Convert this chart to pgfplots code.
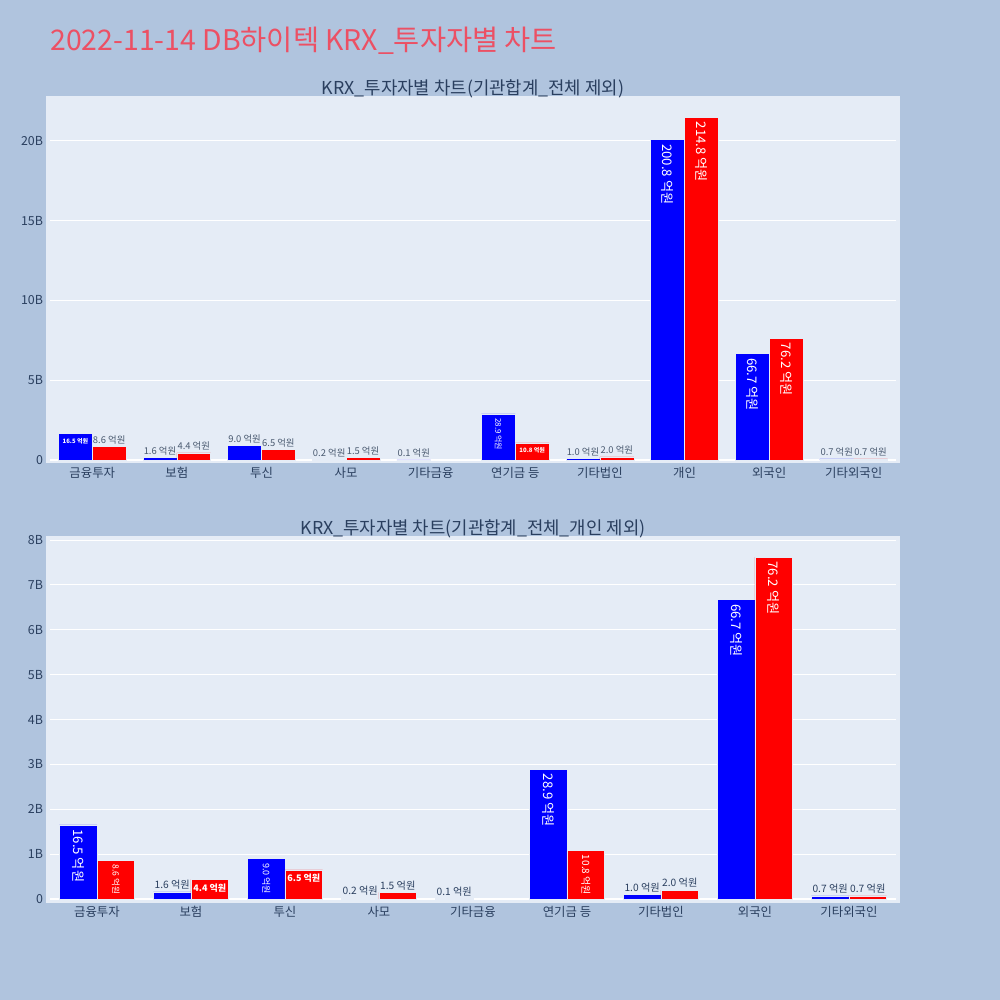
\documentclass[border=0pt]{standalone}
\usepackage{fontspec}
\usepackage{pgfplots}
\usepackage{pgfplotstable}
\pgfplotsset{compat=1.18}
\setmainfont{Noto Sans CJK KR}
\definecolor{pagebg}{HTML}{B0C4DE}
\definecolor{plotbg}{HTML}{E5ECF6}
\definecolor{titlec}{HTML}{EC5064}
\definecolor{fontc}{HTML}{2A3F5F}
\definecolor{outc}{HTML}{4A5A70}
\definecolor{barblue}{HTML}{0000FF}
\definecolor{barred}{HTML}{FF0000}
\newcommand\fs[1]{\fontsize{#1}{#1}\selectfont}

% values in billions of won (1 억원 = 0.01 B)
\pgfplotstableread{
x buy sell
0 1.65 0.86
1 0.16 0.44
2 0.90 0.65
3 0.02 0.15
4 0.01 nan
5 2.89 1.08
6 0.10 0.20
7 20.08 21.48
8 6.67 7.62
9 0.07 0.07
}\topdata
\pgfplotstableread{
x buy sell
0 1.65 0.86
1 0.16 0.44
2 0.90 0.65
3 0.02 0.15
4 0.01 nan
5 2.89 1.08
6 0.10 0.20
7 6.67 7.62
8 0.07 0.07
}\botdata

\tikzset{
  outl/.style={anchor=south, inner sep=1pt},
  rotl/.style={rotate=-90, anchor=west, inner sep=2pt, text=white},
  horl/.style={anchor=north, inner sep=2pt, text=white},
}
\newcommand\ol[5]{\node[outl, text=#5, font=\fs{#4}] at (axis cs:#1,#2) {#3 억원};}
\newcommand\rl[4]{\node[rotl, font=\fs{#4}] at (axis cs:#1,#2) {#3 억원};}
\newcommand\hl[4]{\node[horl, font=\fs{#4}\bfseries] at (axis cs:#1,#2) {#3 억원};}

\pgfplotsset{
  common/.style={
    scale only axis, width=423pt, anchor=south west,
    ymin=0,
    axis line style={draw=none}, major tick length=0pt,
    ymajorgrids, grid style={white, line width=0.5pt},
    ticklabel style={font=\fs{6.2}, text=fontc},
    /pgf/number format/assume math mode=true,
    clip=false, unbounded coords=discard,
  },
  buyb/.style={ybar, bar width=0.4, bar shift=-0.2, fill=barblue, draw=plotbg, line width=0.25pt},
  sellb/.style={ybar, bar width=0.4, bar shift=0.2, fill=barred, draw=plotbg, line width=0.25pt},
}

\begin{document}
\begin{tikzpicture}
\fill[pagebg] (0,0) rectangle (500pt,-500pt);
\useasboundingbox (0,0) rectangle (500pt,-500pt);
\fill[plotbg] (23pt,-48pt) rectangle (450pt,-231.5pt);
\fill[plotbg] (23pt,-268pt) rectangle (450pt,-451.5pt);
\node[anchor=base west, text=titlec, font=\fs{14.2}, inner sep=0pt] at (25pt,-25.5pt) {2022-11-14 DB하이텍 KRX\_투자자별 차트};
\node[text=fontc, font=\fs{8.9}, inner sep=0pt] at (236.5pt,-44.5pt) {KRX\_투자자별 차트(기관합계\_전체 제외)};
\node[text=fontc, font=\fs{8.9}, inner sep=0pt] at (236.5pt,-264.5pt) {KRX\_투자자별 차트(기관합계\_전체\_개인 제외)};

\begin{axis}[common,
  at={(25pt,-230pt)}, height=180pt,
  xmin=-0.5, xmax=9.5, ymax=22.57,
  ytick={0,5,10,15,20}, yticklabels={0,5B,10B,15B,20B},
  xtick={0,...,9},
  xticklabels={금융투자,보험,투신,사모,기타금융,연기금 등,기타법인,개인,외국인,기타외국인},
]
\draw[white, line width=1pt] (axis cs:-0.5,0) -- (axis cs:9.5,0);
\addplot[buyb] table[x=x, y=buy] {\topdata};
\addplot[sellb] table[x=x, y=sell] {\topdata};
% outside labels
\ol{0.2}{0.86}{8.6}{4.7}{outc}
\ol{0.8}{0.16}{1.6}{4.7}{outc}
\ol{1.2}{0.44}{4.4}{4.7}{outc}
\ol{1.8}{0.90}{9.0}{4.7}{outc}
\ol{2.2}{0.65}{6.5}{4.7}{outc}
\ol{2.8}{0.02}{0.2}{4.7}{outc}
\ol{3.2}{0.15}{1.5}{4.7}{outc}
\ol{3.8}{0.01}{0.1}{4.7}{outc}
\ol{5.8}{0.10}{1.0}{4.7}{outc}
\ol{6.2}{0.20}{2.0}{4.7}{outc}
\ol{8.8}{0.07}{0.7}{4.7}{outc}
\ol{9.2}{0.07}{0.7}{4.7}{outc}
% inside labels
\hl{-0.2}{1.65}{16.5}{3}
\hl{5.2}{1.08}{10.8}{3}
\rl{4.8}{2.89}{28.9}{4}
\rl{6.8}{20.08}{200.8}{6.6}
\rl{7.2}{21.48}{214.8}{6.6}
\rl{7.8}{6.67}{66.7}{6.6}
\rl{8.2}{7.62}{76.2}{6.6}
\end{axis}

\begin{axis}[common,
  at={(25pt,-449.5pt)}, height=179.5pt,
  xmin=-0.5, xmax=8.5, ymax=8.0,
  ytick={0,1,...,8}, yticklabels={0,1B,2B,3B,4B,5B,6B,7B,8B},
  xtick={0,...,8},
  xticklabels={금융투자,보험,투신,사모,기타금융,연기금 등,기타법인,외국인,기타외국인},
]
\draw[white, line width=1pt] (axis cs:-0.5,0) -- (axis cs:8.5,0);
\addplot[buyb] table[x=x, y=buy] {\botdata};
\addplot[sellb] table[x=x, y=sell] {\botdata};
% outside labels
\ol{0.8}{0.16}{1.6}{5.1}{fontc}
\ol{2.8}{0.02}{0.2}{5.1}{fontc}
\ol{3.2}{0.15}{1.5}{5.1}{fontc}
\ol{3.8}{0.01}{0.1}{5.1}{fontc}
\ol{5.8}{0.10}{1.0}{5.1}{fontc}
\ol{6.2}{0.20}{2.0}{5.1}{fontc}
\ol{7.8}{0.07}{0.7}{5.1}{fontc}
\ol{8.2}{0.07}{0.7}{5.1}{fontc}
% inside labels
\rl{-0.2}{1.65}{16.5}{6.6}
\rl{0.2}{0.86}{8.6}{4.3}
\hl{1.2}{0.44}{4.4}{4.5}
\rl{1.8}{0.90}{9.0}{4.5}
\hl{2.2}{0.65}{6.5}{4.5}
\rl{4.8}{2.89}{28.9}{6.6}
\rl{5.2}{1.08}{10.8}{5}
\rl{6.8}{6.67}{66.7}{6.6}
\rl{7.2}{7.62}{76.2}{6.6}
\end{axis}
\end{tikzpicture}
\end{document}
